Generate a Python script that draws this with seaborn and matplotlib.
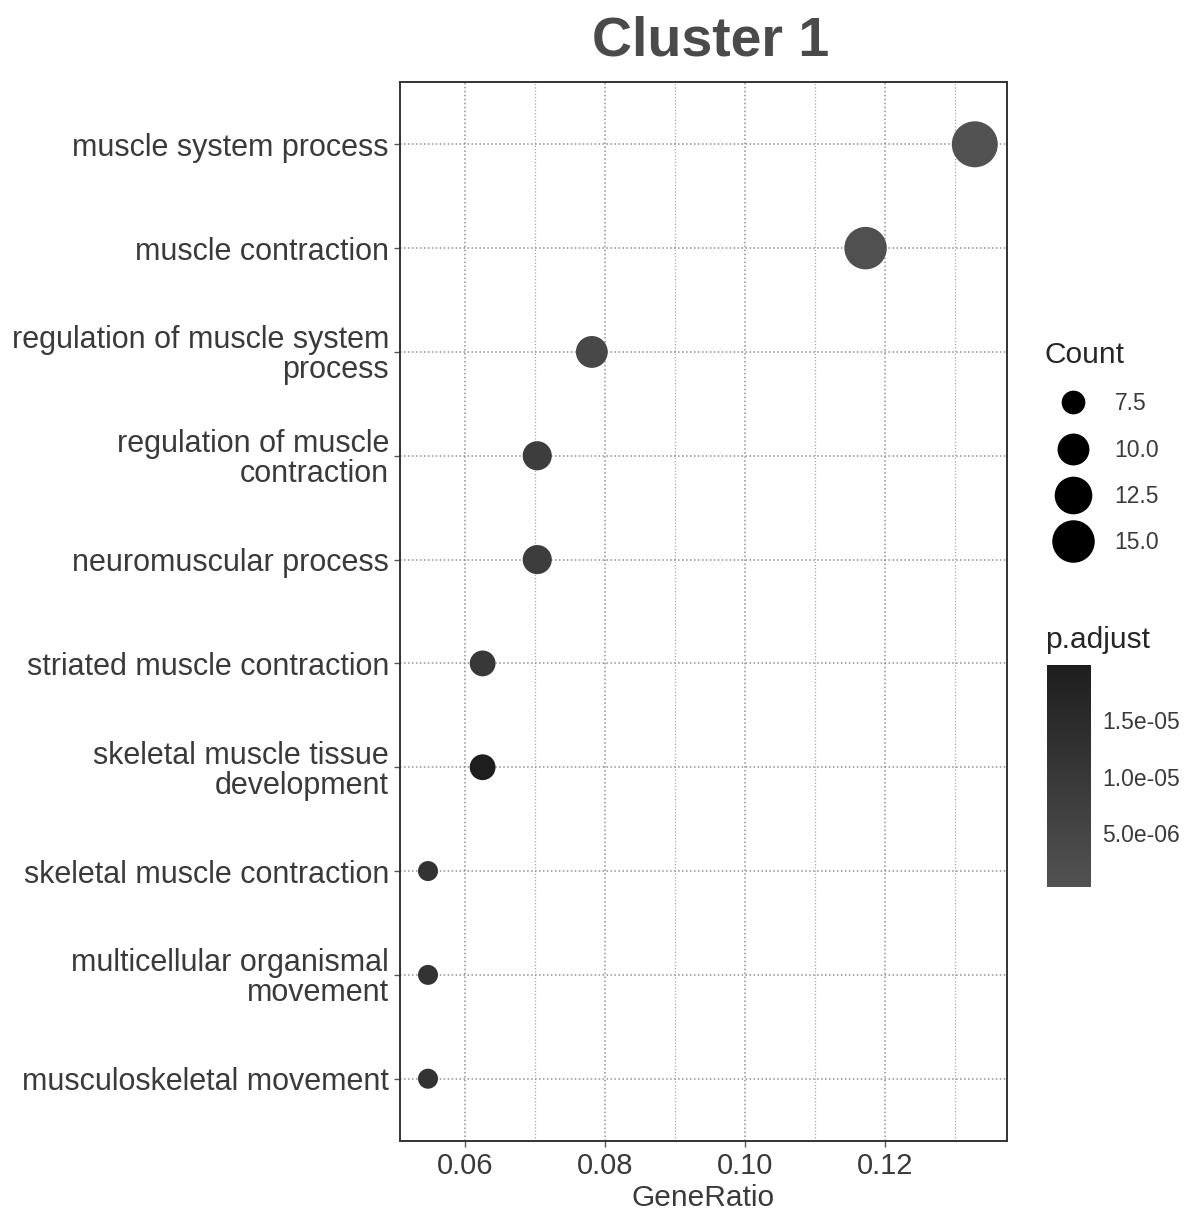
import numpy as np
import pandas as pd
import seaborn as sns
import matplotlib
matplotlib.use("Agg")
import matplotlib.pyplot as plt
from matplotlib.colors import LinearSegmentedColormap, Normalize
from matplotlib.lines import Line2D
from matplotlib.ticker import MultipleLocator, FuncFormatter
import matplotlib.cm as cm

# ---------------- data ----------------
terms = [
    "muscle system process",
    "muscle contraction",
    "regulation of muscle system\nprocess",
    "regulation of muscle\ncontraction",
    "neuromuscular process",
    "striated muscle contraction",
    "skeletal muscle tissue\ndevelopment",
    "skeletal muscle contraction",
    "multicellular organismal\nmovement",
    "musculoskeletal movement",
]
gene_ratio = [0.1328, 0.1172, 0.0781, 0.0703, 0.0703, 0.0625, 0.0625, 0.0547, 0.0547, 0.0547]
counts = [17, 15, 10, 9, 9, 8, 8, 7, 7, 7]
p_adjust = [2.0e-7, 1.0e-6, 4.0e-6, 8.0e-6, 8.0e-6, 1.0e-5, 1.99e-5, 1.2e-5, 1.2e-5, 1.2e-5]

count_breaks = [7.5, 10.0, 12.5, 15.0]
p_breaks = [5.0e-6, 1.0e-5, 1.5e-5]
p_break_labels = ["5.0e-06", "1.0e-05", "1.5e-05"]

df = pd.DataFrame({"Description": terms, "GeneRatio": gene_ratio,
                   "Count": counts, "p.adjust": p_adjust})

# ---------------- style ----------------
sns.set_theme(style="white")
plt.rcParams["font.family"] = ["Liberation Sans", "DejaVu Sans"]

W, H = 1188, 1223
fig = plt.figure(figsize=(W / 100, H / 100), dpi=100)
ax = fig.add_axes([400 / W, 1 - 1141 / H, 607 / W, 1059 / H])

cmap = LinearSegmentedColormap.from_list("gr", ["#525252", "#1e1e1e"])
norm = Normalize(min(p_adjust), max(p_adjust))

# size scale: marker diameter (px) grows with Count between the data limits
c_lo, c_hi = min(counts), max(counts)
d_lo, d_hi = 20.0, 46.0


def marker_area(c):
    t = np.clip((c - c_lo) / (c_hi - c_lo), 0, 1)
    d_px = d_lo + (d_hi - d_lo) * t ** 0.65
    return (d_px * 0.72) ** 2  # px -> pt at 100 dpi, area in pt^2


size_map = {c: marker_area(c) for c in sorted(set(counts))}

sns.scatterplot(data=df, x="GeneRatio", y="Description", hue="p.adjust",
                hue_norm=norm, palette=cmap, size="Count", sizes=size_map,
                legend=False, linewidth=0, ax=ax, zorder=3)

# axes limits / grid
ax.set_xlim(0.0507, 0.1374)
ax.set_ylim(len(terms) - 1 + 0.6, -0.6)
ax.xaxis.set_major_locator(MultipleLocator(0.02))
ax.xaxis.set_minor_locator(MultipleLocator(0.01))
ax.xaxis.set_major_formatter(FuncFormatter(lambda v, p: f"{v:.2f}"))
ax.grid(True, which="major", axis="both", color="#8f8f8f",
        linestyle=(0, (1, 1.6)), linewidth=1.1)
ax.grid(True, which="minor", axis="x", color="#a8a8a8",
        linestyle=(0, (1, 1.6)), linewidth=0.9)
ax.set_axisbelow(True)

for s in ax.spines.values():
    s.set_color("#333333")
    s.set_linewidth(1.4)

ax.tick_params(axis="both", which="major", length=4, width=1, color="#555555",
               labelcolor="#3a3a3a", left=True, bottom=True)
ax.tick_params(axis="y", labelsize=22, pad=4)
ax.tick_params(axis="x", labelsize=21, pad=4)
ax.tick_params(axis="x", which="minor", length=0)
for t in ax.get_yticklabels():
    t.set_linespacing(1.0)
ax.set_xlabel("GeneRatio", fontsize=21.5, color="#3a3a3a", labelpad=3)
ax.set_ylabel("")
fig.text(711 / W, 1 - 55 / H, "Cluster 1", fontsize=40, fontweight="bold",
         color="#4a4a4a", ha="center", va="baseline")

# ---------------- Count legend ----------------
handles = [Line2D([], [], marker="o", linestyle="", color="black",
                  markersize=np.sqrt(marker_area(b)), markeredgewidth=0)
           for b in count_breaks]
leg = fig.legend(handles, [f"{b:.1f}" for b in count_breaks],
                 loc="upper left", bbox_to_anchor=(1047 / W, 1 - 383 / H),
                 frameon=False, fontsize=16.5, labelspacing=1.02,
                 handlelength=1.5, handletextpad=1.05, borderaxespad=0)
for t in leg.get_texts():
    t.set_color("#3a3a3a")
fig.text(1045 / W, 1 - 355 / H, "Count", fontsize=21.5, ha="left", va="center")

# ---------------- p.adjust colorbar ----------------
cax = fig.add_axes([1047 / W, 1 - 887 / H, 44 / W, 222 / H])
cb = fig.colorbar(cm.ScalarMappable(norm=norm, cmap=cmap), cax=cax)
cb.outline.set_visible(False)
cb.set_ticks(p_breaks)
cb.set_ticklabels(p_break_labels)
cax.tick_params(labelsize=16.5, labelcolor="#3a3a3a", length=8, width=1, color="white",
                direction="in", pad=8)
fig.text(1045 / W, 1 - 640 / H, "p.adjust", fontsize=21.5, ha="left", va="center")

fig.savefig("out.png", dpi=100)
